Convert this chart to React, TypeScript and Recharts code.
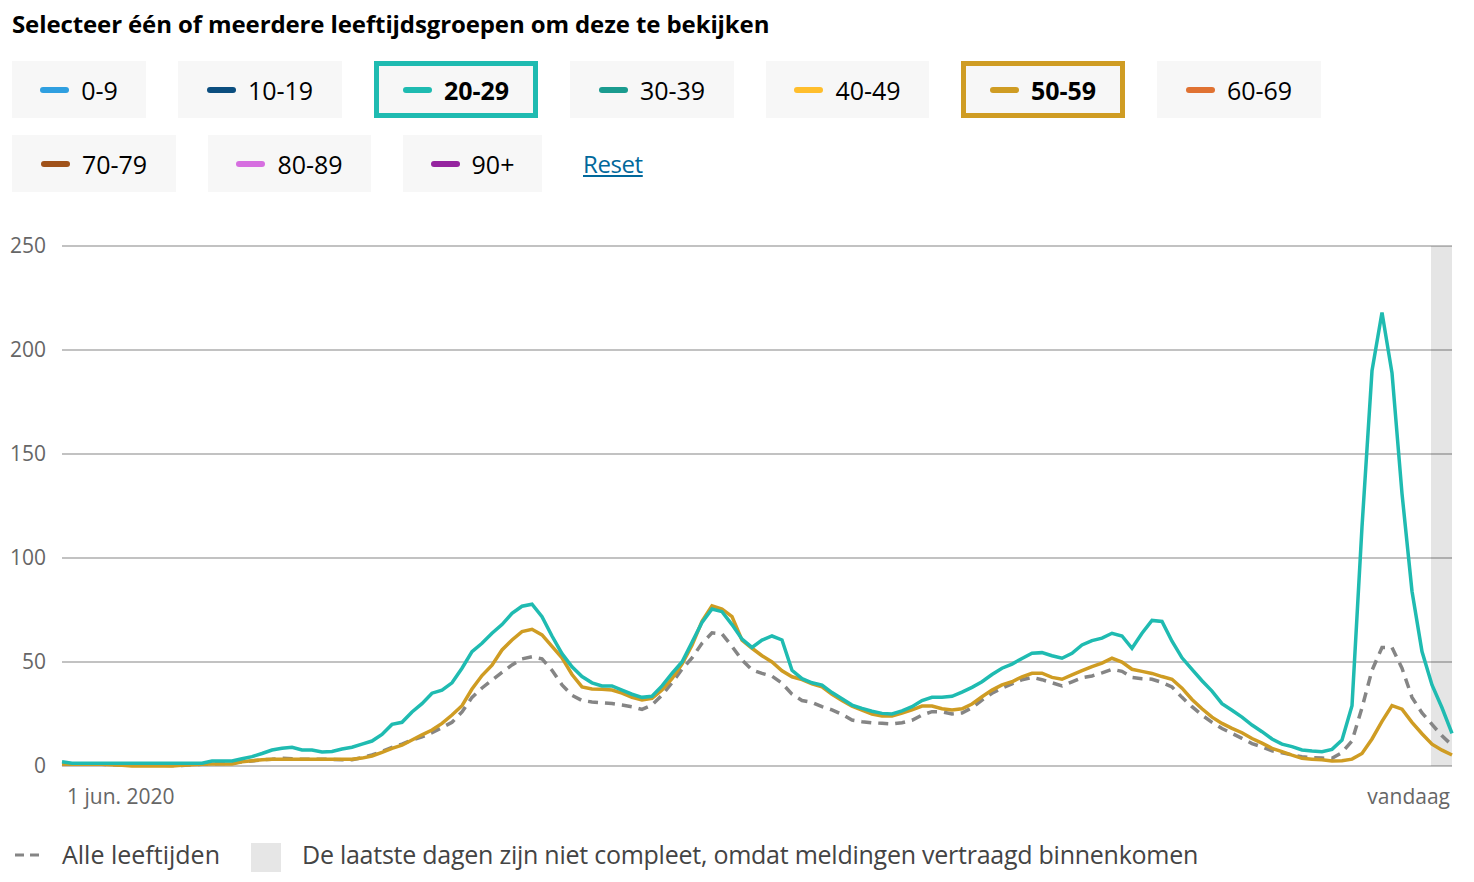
import React from 'react';
import {
    LineChart,
    Line,
    XAxis,
    YAxis,
    CartesianGrid,
    ReferenceArea,
} from 'recharts';

// sampled every ~3 days, 1 jun. 2020 -> vandaag
const leeftijd2029 = [
    2, 1.3, 1.3, 1.3, 1.3, 1.3, 1.3, 1.3, 1.3, 1.3,
    1.3, 1.3, 1.3, 1.3, 1.3, 2.4, 2.4, 2.4, 3.5, 4.5,
    6, 7.7, 8.5, 9, 7.7, 7.7, 6.7, 7, 8.2, 9,
    10.5, 12, 15.2, 20, 21, 26, 30, 35, 36.5, 40,
    47, 55, 59, 63.8, 68, 73.4, 76.8, 77.8, 71.8, 62.5,
    54, 47.7, 43, 40, 38.5, 38.5, 36.5, 34.5, 33, 33.5,
    38.5, 44.5, 50, 59.5, 69, 75.5, 74.2, 68, 61, 57,
    60.5, 62.5, 60.6, 46, 42, 40, 38.9, 35.3, 32.3, 29.3,
    27.7, 26.3, 25.3, 25, 26.5, 28.5, 31.5, 33, 33, 33.5,
    35.5, 37.8, 40.5, 44, 47, 49, 51.7, 54.2, 54.5, 53,
    51.8, 54.2, 58.2, 60.3, 61.5, 63.8, 62.5, 56.6, 63.8, 70,
    69.5, 60, 52, 46.5, 41, 36, 30, 26.8, 23.5, 19.7,
    16.5, 13, 10.5, 9.3, 7.7, 7.2, 6.9, 8, 12.5, 29,
    115, 190, 218, 189, 131, 84, 55, 39, 28, 15.7,
];

const leeftijd5059 = [
    1, 0.8, 0.8, 0.8, 0.8, 0.6, 0.4, 0, 0, 0,
    0, 0, 0.3, 0.6, 0.8, 1, 1, 1, 2, 2.5,
    3, 3.2, 3.2, 3.2, 3.2, 3.2, 3.2, 3.2, 3.2, 3.2,
    3.8, 4.8, 6.5, 8.5, 10, 12.5, 15, 17.3, 20.5, 24.5,
    29, 37, 43.5, 48.5, 55.8, 60.6, 64.6, 65.7, 63, 57.5,
    52, 44, 38, 37, 36.9, 36.5, 35, 33, 31.7, 32.5,
    36.5, 42, 49, 58, 69.5, 77, 75.5, 71.8, 60.5, 56.6,
    53, 50, 45.8, 42.9, 41.5, 39.5, 38.1, 34.5, 31.5, 28.8,
    26.9, 25, 24, 24, 25.5, 27, 28.8, 28.8, 27.5, 26.9,
    27.5, 29.8, 33.3, 36.5, 39, 40.5, 42.9, 44.6, 44.6, 42.6,
    41.7, 43.8, 45.8, 47.8, 49.5, 51.8, 50, 46.5, 45.5, 44.5,
    43, 41.7, 37.4, 32, 27.5, 23.5, 20.5, 18.1, 16, 13.2,
    11, 8.5, 6.9, 5.2, 3.7, 3.3, 3, 2.4, 2.5, 3.3,
    6, 13, 21.5, 29, 27.3, 21, 15.5, 10.5, 7.6, 5.3,
];

const alleLeeftijden = [
    1, 0.8, 0.8, 0.8, 0.8, 0.6, 0.5, 0.4, 0.4, 0.4,
    0.4, 0.3, 0.3, 0.6, 0.8, 1, 1.2, 1.4, 2, 2.4,
    3, 3.2, 3.8, 3.5, 3.2, 3.2, 3.2, 3.2, 3, 3,
    4, 5.3, 7, 9, 10.5, 12.5, 14, 16, 18.5, 21,
    26, 33, 37.5, 41.3, 45, 48.6, 51.5, 52.5, 51.5, 46,
    39, 34, 31.5, 30.8, 30.4, 30, 29.3, 28.5, 27.2, 29.3,
    34, 40, 46.5, 52, 59, 64, 63.5, 57.5, 51, 46.2,
    44.5, 43.2, 39.8, 34.5, 31.5, 30.6, 28.5, 27, 24.8, 22.1,
    21.3, 20.8, 20.5, 20.2, 20.8, 22, 24.5, 26.1, 26, 25,
    25.5, 28, 31.7, 35, 37.5, 39.5, 41.5, 42.6, 41.5, 40,
    38.5, 40.5, 42.5, 43.3, 44.8, 46.5, 45.5, 42.6, 42, 41.7,
    40.2, 38, 33, 28.5, 24.5, 21, 18, 15.7, 13.3, 10.8,
    9.2, 7.3, 6.4, 5.3, 4.5, 4, 3.8, 3.7, 6.5, 12,
    28, 46, 57, 57, 47, 33, 25.5, 20, 14.5, 10,
];

const yTicks = [0, 50, 100, 150, 200, 250];
const xLabels = ['1 jun. 2020', 'vandaag'];
const incompleteFrom = 136.9;

const groepen = [
    { label: '0-9', color: '#2f9fe0' },
    { label: '10-19', color: '#0b4e7f' },
    { label: '20-29', color: '#1fbbb1', selected: true },
    { label: '30-39', color: '#1a9b8f' },
    { label: '40-49', color: '#ffbe2c' },
    { label: '50-59', color: '#cf9c23', selected: true },
    { label: '60-69', color: '#e07232' },
    { label: '70-79', color: '#a0521a' },
    { label: '80-89', color: '#d66fe0' },
    { label: '90+', color: '#95249f' },
];

// button boxes as measured on the page
const knopPos = [
    [12, 61, 134], [178, 61, 164], [374, 61, 164], [570, 61, 164], [766, 61, 163],
    [961, 61, 164], [1157, 61, 164], [12, 135, 164], [208, 135, 163], [403, 135, 139],
];

const font = "'Open Sans', 'Noto Sans', sans-serif";

const data = leeftijd2029.map((v, i) => ({
    i,
    twintig: v,
    vijftig: leeftijd5059[i],
    alle: alleLeeftijden[i],
}));

const last = data.length - 1;

function XTick(props: any) {
    const { x, y, payload } = props;
    const first = payload.value === 0;
    return (
        <text
            x={first ? x + 5 : x - 2}
            y={y + 30}
            textAnchor={first ? 'start' : 'end'}
            fill="#666"
            fontSize={21}
            fontFamily={font}
        >
            {first ? xLabels[0] : xLabels[1]}
        </text>
    );
}

export default function App() {
    return (
        <div style={{ position: 'absolute', left: 0, top: 0, width: 1474, height: 882, background: '#fff', fontFamily: font }}>
            <div style={{ position: 'absolute', left: 12, top: 8, fontSize: 24, fontWeight: 700, color: '#000', lineHeight: '32px', letterSpacing: '-0.11px', whiteSpace: 'nowrap' }}>
                Selecteer één of meerdere leeftijdsgroepen om deze te bekijken
            </div>

            {groepen.map((g, idx) => {
                const [left, top, width] = knopPos[idx];
                return (
                    <div
                        key={g.label}
                        style={{
                            position: 'absolute',
                            left,
                            top,
                            width,
                            height: 57,
                            boxSizing: 'border-box',
                            background: '#f7f7f7',
                            border: g.selected ? `5px solid ${g.color}` : 'none',
                            display: 'flex',
                            alignItems: 'center',
                            justifyContent: 'center',
                            gap: 12,
                            fontSize: 25,
                            fontWeight: g.selected ? 700 : 400,
                            color: '#000',
                        }}
                    >
                        <span style={{ width: 29, height: 6, borderRadius: 3, background: g.color }} />
                        <span>{g.label}</span>
                    </div>
                );
            })}
            <div style={{ position: 'absolute', left: 583, top: 148, fontSize: 24, color: '#01689b', textDecoration: 'underline', lineHeight: '32px', letterSpacing: '-0.4px' }}>
                Reset
            </div>

            <div style={{ position: 'absolute', left: 0, top: 226 }}>
                <LineChart width={1474} height={590} data={data} margin={{ top: 20, right: 22, bottom: 0, left: 0 }}>
                    <CartesianGrid vertical={false} stroke="#c2c2c2" strokeWidth={2} />
                    <ReferenceArea x1={incompleteFrom} x2={last} fill="#000" fillOpacity={0.1} stroke="none" ifOverflow="visible" />
                    <XAxis
                        dataKey="i"
                        type="number"
                        domain={[0, last]}
                        ticks={[0, last]}
                        axisLine={false}
                        tickLine={false}
                        height={50}
                        tick={<XTick />}
                    />
                    <YAxis
                        domain={[0, 250]}
                        ticks={yTicks}
                        width={62}
                        axisLine={false}
                        tickLine={false}
                        tickMargin={10}
                        tick={{ fill: '#666', fontSize: 21, fontFamily: font }}
                    />
                    <Line type="linear" dataKey="alle" stroke="#858585" strokeWidth={3.5} strokeDasharray="10 7" dot={false} isAnimationActive={false} />
                    <Line type="linear" dataKey="vijftig" stroke="#cf9c23" strokeWidth={3.5} dot={false} isAnimationActive={false} />
                    <Line type="linear" dataKey="twintig" stroke="#1fbbb1" strokeWidth={3.5} dot={false} isAnimationActive={false} />
                </LineChart>
            </div>

            <svg style={{ position: 'absolute', left: 14, top: 850 }} width={30} height={10}>
                <line x1={1} y1={5} x2={28} y2={5} stroke="#858585" strokeWidth={3} strokeDasharray="9 6" />
            </svg>
            <div style={{ position: 'absolute', left: 62, top: 838, fontSize: 25, color: '#444', lineHeight: '32px' }}>
                Alle leeftijden
            </div>
            <div style={{ position: 'absolute', left: 251, top: 843, width: 30, height: 29, background: '#e6e6e6' }} />
            <div style={{ position: 'absolute', left: 302, top: 838, fontSize: 25, color: '#444', lineHeight: '32px', whiteSpace: 'nowrap', letterSpacing: '-0.25px' }}>
                De laatste dagen zijn niet compleet, omdat meldingen vertraagd binnenkomen
            </div>
        </div>
    );
}
